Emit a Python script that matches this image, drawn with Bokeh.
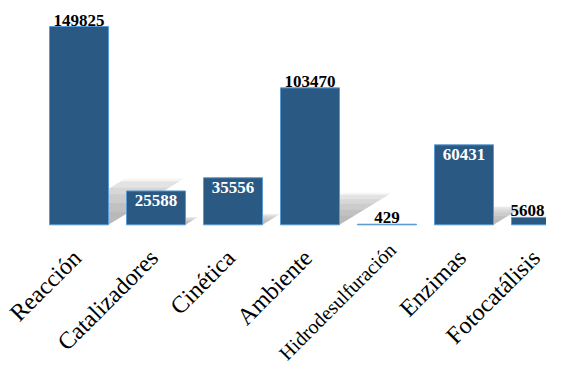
from bokeh.plotting import figure
from bokeh.models import ColumnDataSource, Range1d
from bokeh.core.properties import value
from bokeh.embed import file_html
from bokeh.resources import INLINE

# ---- data ----
categories = ["Reacción", "Catalizadores", "Cinética", "Ambiente",
              "Hidrodesulfuración", "Enzimas", "Fotocatálisis"]
counts = [149825, 25588, 35556, 103470, 429, 60431, 5608]
label_inside = [False, True, True, False, False, True, False]

# ---- layout constants ----
W, H = 546, 366
PX_PER_CAT = 77.0
FIRST_CENTER_PX = 78.5
BASELINE_PX = 224.3          # from top of figure
MAX_BAR_PX = 198.3           # pixel height of the tallest bar
BAR_W = 59.0 / PX_PER_CAT
units_per_px = max(counts) / MAX_BAR_PX

x_start = -FIRST_CENTER_PX / PX_PER_CAT
x_end = x_start + W / PX_PER_CAT
y_end = BASELINE_PX * units_per_px
y_start = -(H - BASELINE_PX) * units_per_px

xs = list(range(len(categories)))

p = figure(width=W, height=H, output_backend="svg", toolbar_location=None,
           x_range=Range1d(x_start, x_end), y_range=Range1d(y_start, y_end),
           min_border=0, min_border_left=0, min_border_right=0,
           min_border_top=0, min_border_bottom=0)
p.axis.visible = False
p.grid.visible = False
p.outline_line_color = None
p.background_fill_color = "white"
p.border_fill_color = "white"

# ---- shadows (projected from each bar) ----
SH_DX = 0.36   # horizontal shift per pixel of bar height
SH_DY = 0.22   # vertical rise per unit of bar height
for scale, alpha in [(1.06, 0.04), (1.0, 0.07), (0.85, 0.05), (0.7, 0.05),
                     (0.5, 0.05), (0.3, 0.04)]:
    pxs, pys = [], []
    for x, v in zip(xs, counts):
        hpx = v / units_per_px * scale
        dx = SH_DX * hpx / PX_PER_CAT
        dy = SH_DY * v * scale
        x0, x1 = x - BAR_W / 2, x + BAR_W / 2
        pxs.append([x0, x1, x1 + dx, x0 + dx])
        pys.append([0, 0, dy, dy])
    p.patches(pxs, pys, fill_color="#000000", fill_alpha=alpha, line_color=None)

# ---- bars ----
src = ColumnDataSource(dict(x=xs, top=counts))
p.vbar(x="x", top="top", bottom=0, width=BAR_W, source=src,
       fill_color="#2a5983", line_color="#5b9bd5", line_width=1)

# ---- value labels ----
FONT_PX = 17
out_idx = [i for i, f in enumerate(label_inside) if not f]
in_idx = [i for i, f in enumerate(label_inside) if f]


def edge_nudge(i):
    # keep the label inside the figure's right edge
    half = len(str(counts[i])) * 0.5 * FONT_PX / 2
    right = FIRST_CENTER_PX + PX_PER_CAT * xs[i] + half
    return min(0.0, (W - 2) - right)


p.text(x=[xs[i] for i in out_idx], y=[counts[i] for i in out_idx],
       text=[str(counts[i]) for i in out_idx], text_align="center",
       x_offset=[edge_nudge(i) for i in out_idx],
       text_baseline="bottom", y_offset=-1,
       text_font=value("Liberation Serif"), text_font_style="bold",
       text_font_size=f"{FONT_PX}px", text_color="black")
p.text(x=[xs[i] for i in in_idx], y=[counts[i] for i in in_idx],
       text=[str(counts[i]) for i in in_idx], text_align="center",
       text_baseline="top", y_offset=4,
       text_font=value("Liberation Serif"), text_font_style="bold",
       text_font_size=f"{FONT_PX}px", text_color="white")

# ---- category labels (rotated 45 degrees) ----
LAB_DX_PX = -2.0
LAB_DY_PX = 29.0
CAT_FONT = 24
MIN_FONT = 20
EM_PER_CHAR = 0.432
fsizes, xoffs, yoffs = [], [], []
for i, c in enumerate(categories):
    anchor_x = FIRST_CENTER_PX + PX_PER_CAT * xs[i] + LAB_DX_PX
    anchor_y = BASELINE_PX + LAB_DY_PX
    fs = CAT_FONT

    def bottom(f, shift=0.0):
        return anchor_y - shift + 0.707 * (len(c) * EM_PER_CHAR * f + 0.5 * f)

    while fs > MIN_FONT and bottom(fs) > H - 3:
        fs -= 1
    shift = max(0.0, bottom(fs) - (H - 3))
    dx = LAB_DX_PX + shift
    right = anchor_x + shift + 0.36 * fs
    dx += min(0.0, (W - 2) - right)
    fsizes.append(f"{fs}px")
    xoffs.append(dx)
    yoffs.append(-shift)

lab_src = ColumnDataSource(dict(x=xs, y=[-LAB_DY_PX * units_per_px] * len(xs),
                                text=categories, fs=fsizes, xo=xoffs, yo=yoffs))
p.text(x="x", y="y", text="text", x_offset="xo", y_offset="yo", source=lab_src,
       angle=0.7854, text_align="right", text_baseline="middle",
       text_font=value("Liberation Serif"), text_font_size="fs",
       text_color="black")

open("out.html", "w").write(file_html(p, INLINE))
